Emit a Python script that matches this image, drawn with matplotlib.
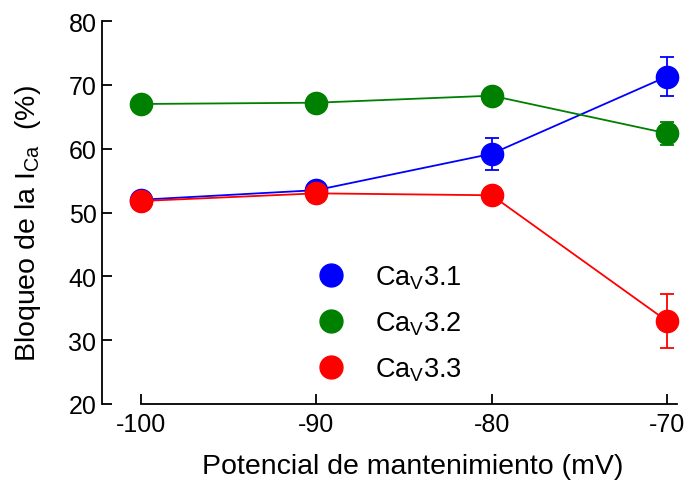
import numpy as np
import matplotlib
matplotlib.use('Agg')
import matplotlib.pyplot as plt
from matplotlib.lines import Line2D

plt.rcParams['font.family'] = ['Liberation Sans', 'DejaVu Sans']
plt.rcParams['mathtext.fontset'] = 'custom'
plt.rcParams['mathtext.rm'] = 'Liberation Sans'
plt.rcParams['mathtext.it'] = 'Liberation Sans:italic'
plt.rcParams['axes.unicode_minus'] = False

# holding potential (mV)
potencial = [-100, -90, -80, -70]

# block of I_Ca (%) and error
cav31 = [52.0, 53.5, 59.2, 71.3]
cav31_err = [0.5, 0.5, 2.5, 3.0]
cav32 = [67.0, 67.2, 68.3, 62.4]
cav32_err = [0.5, 0.5, 0.6, 1.8]
cav33 = [51.8, 53.0, 52.7, 33.0]
cav33_err = [0.5, 0.5, 0.5, 4.2]

labels = ['Ca$_\\mathrm{V}$3.1', 'Ca$_\\mathrm{V}$3.2', 'Ca$_\\mathrm{V}$3.3']
colors = ['#0000FF', '#008000', '#FF0000']

fig = plt.figure(figsize=(6.89, 4.81), dpi=100)
ax = fig.add_axes([102/689, 1-405/481, (677-102)/689, (405-22)/481])

kwargs = dict(fmt='o-', ms=16, linewidth=1.3, elinewidth=1.3, capsize=5, capthick=1.3)
for y, e, c in zip([cav31, cav32, cav33], [cav31_err, cav32_err, cav33_err], colors):
    ax.errorbar(potencial, y, yerr=e, color=c, mec=c, mfc=c, clip_on=False, **kwargs)

ax.set_xlim(-102.22, -69.43)
ax.set_ylim(20, 80)
ax.set_xticks(potencial)
ax.set_yticks(np.arange(20, 81, 10))
ax.spines['top'].set_visible(False)
ax.spines['right'].set_visible(False)
ax.spines['bottom'].set_bounds(-100, -69.43)
ax.spines['left'].set_linewidth(1.3)
ax.spines['bottom'].set_linewidth(1.3)
ax.tick_params(direction='in', length=7, width=1.3, labelsize=18)
ax.tick_params(axis='x', pad=6)
ax.tick_params(axis='y', pad=4)

ax.set_xlabel('Potencial de mantenimiento (mV)', fontsize=20.5)
ax.set_ylabel('Bloqueo de la I$_\\mathrm{Ca}$  (%)', fontsize=20.5)
ax.xaxis.set_label_coords(0.54, -0.127)
ax.yaxis.set_label_coords(-0.102, 0.475)

handles = [Line2D([], [], marker='o', linestyle='none', ms=16.5, color=c) for c in colors]
fig.legend(handles, labels, loc='upper left', bbox_to_anchor=(280/689, 1-240/481),
           frameon=False, fontsize=19.5, labelspacing=0.68, handlelength=2.0, handletextpad=0.62)

fig.savefig('out.png', dpi=100)
